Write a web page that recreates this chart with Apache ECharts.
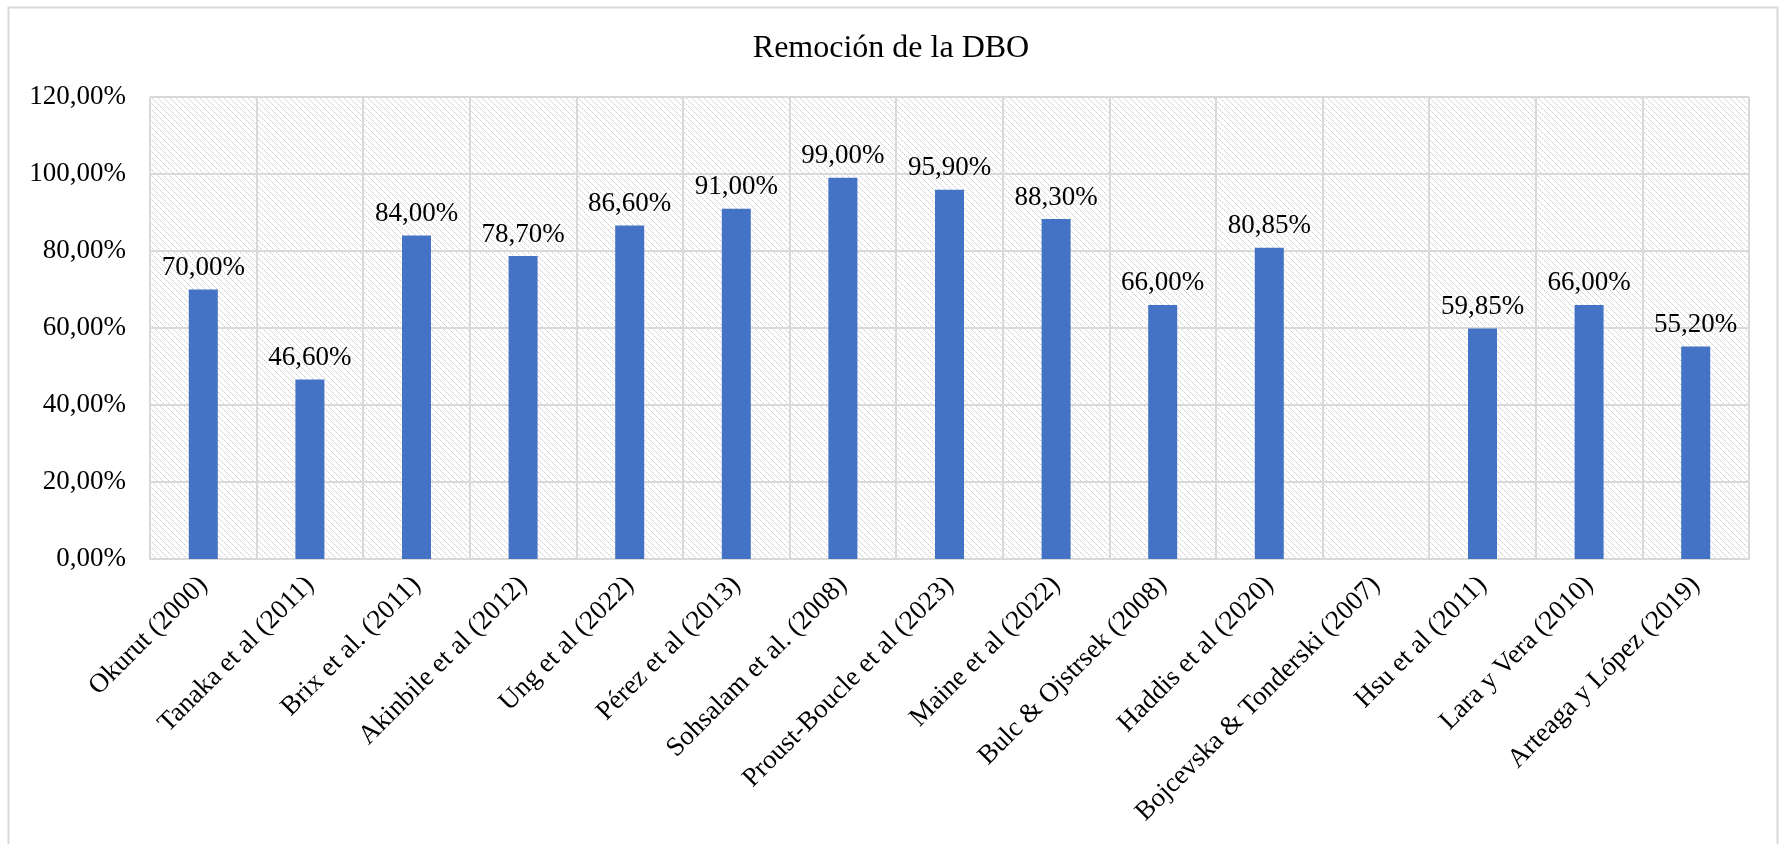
<!DOCTYPE html>
<html>
<head>
<meta charset="utf-8">
<script src="https://cdn.jsdelivr.net/npm/echarts@6/dist/echarts.min.js"></script>
<style>
  html, body { margin: 0; padding: 0; background: #fff; }
  #chart { width: 1782px; height: 844px; }
</style>
</head>
<body>
<div id="chart"></div>
<script>
const titleText = 'Remoción de la DBO';
const estudios = [
  'Okurut (2000)', 'Tanaka et al (2011)', 'Brix et al. (2011)', 'Akinbile et al (2012)',
  'Ung et al (2022)', 'Pérez et al (2013)', 'Sohsalam et al. (2008)', 'Proust-Boucle et al (2023)',
  'Maine et al (2022)', 'Bulc & Ojstrsek (2008)', 'Haddis et al (2020)', 'Bojcevska & Tonderski (2007)',
  'Hsu et al (2011)', 'Lara y Vera (2010)', 'Arteaga y López (2019)'
];
const remocion = [70.00, 46.60, 84.00, 78.70, 86.60, 91.00, 99.00, 95.90, 88.30, 66.00, 80.85, null, 59.85, 66.00, 55.20];

const fontFamily = '"Liberation Serif", "DejaVu Serif", serif';
const fmtPct = v => v.toFixed(2).replace('.', ',') + '%';

// dotted "\" hatch for the plot area
function hatch() {
  const c = document.createElement('canvas');
  c.width = 6; c.height = 6;
  const ctx = c.getContext('2d');
  ctx.fillStyle = '#fff';
  ctx.fillRect(0, 0, 6, 6);
  for (let i = 0; i < 6; i++) {
    ctx.fillStyle = i % 2 === 0 ? '#cccccc' : '#e6e6e6';
    ctx.fillRect(i, i, 1, 1);
  }
  return c;
}

const chart = echarts.init(document.getElementById('chart'));
chart.setOption({
  backgroundColor: '#fff',
  animation: false,
  title: {
    text: titleText,
    left: 'center',
    top: 28,
    textStyle: { fontFamily, fontSize: 32, fontWeight: 'normal', color: '#000' }
  },
  graphic: [{
    type: 'rect',
    shape: { x: 8.5, y: 7.5, width: 1769, height: 860 },
    style: { fill: 'none', stroke: '#d9d9d9', lineWidth: 2 },
    silent: true
  }],
  grid: {
    left: 150, right: 33, top: 97, bottom: 285,
    show: true,
    borderWidth: 0,
    backgroundColor: { image: hatch(), repeat: 'repeat' }
  },
  xAxis: {
    type: 'category',
    data: estudios,
    axisLine: { lineStyle: { color: '#d9d9d9', width: 2 } },
    axisTick: { show: false },
    splitLine: { show: true, lineStyle: { color: '#d9d9d9', width: 2 } },
    axisLabel: {
      rotate: 45,
      margin: 22,
      interval: 0,
      color: '#000',
      fontFamily,
      fontSize: 27
    }
  },
  yAxis: {
    type: 'value',
    min: 0, max: 120, interval: 20,
    axisLine: { show: false },
    axisTick: { show: false },
    splitLine: { lineStyle: { color: '#d9d9d9', width: 2 } },
    axisLabel: {
      margin: 24,
      color: '#000',
      fontFamily,
      fontSize: 27,
      formatter: v => fmtPct(v)
    }
  },
  series: [{
    type: 'bar',
    data: remocion,
    barWidth: 29,
    itemStyle: { color: '#4472C4' },
    label: {
      show: true,
      position: 'top',
      distance: 8,
      color: '#000',
      fontFamily,
      fontSize: 27,
      formatter: p => fmtPct(p.value)
    }
  }]
});
</script>
</body>
</html>
